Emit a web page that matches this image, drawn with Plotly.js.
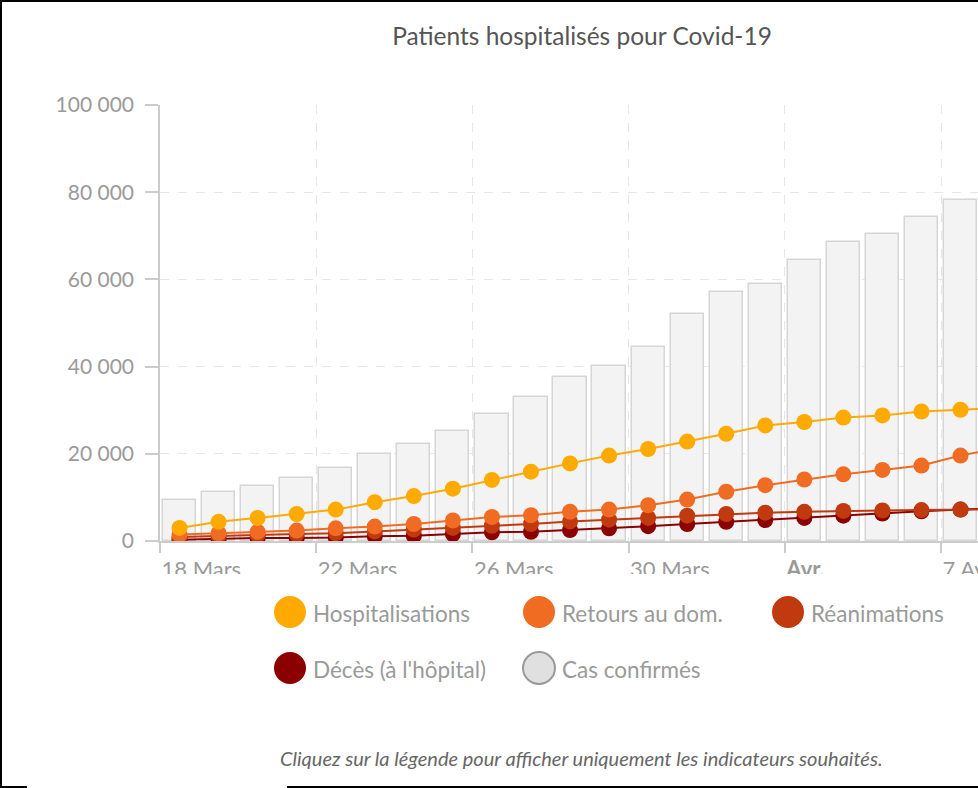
<!DOCTYPE html>
<html>
<head>
<meta charset="utf-8">
<script src="https://cdn.plot.ly/plotly-3.0.1.min.js"></script>
<style>
  html, body { margin: 0; padding: 0; background: #fff; overflow: hidden; width: 978px; height: 788px; }
  #chart { position: absolute; left: 0; top: 0; width: 1020px; height: 788px; }
  .frame { position: absolute; background: #000; }
  #clip { position: absolute; left: 140px; top: 574px; width: 838px; height: 16px; background: #fff; }
</style>
</head>
<body>
<div id="chart"></div>
<div id="clip"></div>
<div class="frame" style="left:0;top:0;width:978px;height:2px;"></div>
<div class="frame" style="left:0;top:0;width:2px;height:788px;"></div>
<div class="frame" style="left:0;top:786px;width:27px;height:2px;"></div>
<div class="frame" style="left:287px;top:786px;width:691px;height:2px;"></div>
<script>
// ---- data ----
const dates = ['2020-03-18','2020-03-19','2020-03-20','2020-03-21','2020-03-22','2020-03-23','2020-03-24',
  '2020-03-25','2020-03-26','2020-03-27','2020-03-28','2020-03-29','2020-03-30','2020-03-31',
  '2020-04-01','2020-04-02','2020-04-03','2020-04-04','2020-04-05','2020-04-06','2020-04-07','2020-04-08'];
const casConfirmes = [9300, 11200, 12600, 14400, 16700, 19900, 22300, 25300, 29100, 33100, 37700,
  40100, 44600, 52100, 57000, 59000, 64400, 68600, 70400, 74200, 78200, 82000];
const hospitalisations = [3000, 4400, 5300, 6200, 7200, 8900, 10300, 12000, 14000, 15900, 17800,
  19600, 21100, 22800, 24600, 26500, 27300, 28300, 28800, 29700, 30100, 30500];
const retoursDom = [1500, 1800, 2100, 2400, 2900, 3300, 3900, 4700, 5500, 5900, 6700,
  7200, 8200, 9500, 11300, 12800, 14100, 15300, 16300, 17300, 19600, 21300];
const reanimations = [900, 1200, 1400, 1600, 1800, 2200, 2600, 3000, 3500, 3900, 4500,
  4900, 5300, 5800, 6200, 6500, 6700, 6900, 7000, 7100, 7200, 7300];
const deces = [300, 500, 700, 700, 800, 1100, 1200, 1600, 2000, 2100, 2500,
  2900, 3400, 3900, 4400, 4800, 5300, 5800, 6300, 6800, 7200, 7500];
const tickDates = ['2020-03-18','2020-03-22','2020-03-26','2020-03-30','2020-04-03','2020-04-07'];
const tickLabels = ['18 Mars','22 Mars','26 Mars','30 Mars','<b>Avr.</b>','7 Avr.'];
const seriesNames = ['Hospitalisations','Retours au dom.','Réanimations',"Décès (à l'hôpital)",'Cas confirmés'];
const seriesColors = ['#ffaa00','#ef6c22','#c0390f','#8b0000','#e0e0e0'];

const FONT = 'Lato, "Open Sans", sans-serif';
const DAY = 86400000;

const lineSeries = [hospitalisations, retoursDom, reanimations, deces];
const traces = [{
  type: 'bar', x: dates, y: casConfirmes, name: seriesNames[4],
  xperiod: DAY, xperiodalignment: 'middle', width: 0.85 * DAY,
  marker: { color: '#f3f3f3', line: { color: '#d6d6d6', width: 1.5 } },
  hoverinfo: 'x+y'
}];
for (let i = lineSeries.length - 1; i >= 0; i--) {
  traces.push({
    type: 'scatter', mode: 'lines+markers', x: dates, y: lineSeries[i], name: seriesNames[i],
    xperiod: DAY, xperiodalignment: 'middle',
    line: { color: seriesColors[i], width: 2 },
    marker: { color: seriesColors[i], size: 16 }
  });
}

// custom legend (large round symbols), laid out in rows
const plotL = 160, plotR = 1004, plotT = 105, plotB = 541;
const pw = plotR - plotL, ph = plotB - plotT;
const px = v => (v - plotL) / pw;
const py = v => (plotB - v) / ph;
const shapes = [], annotations = [];
const order = [0, 1, 2, 3, 4];
order.forEach((k, idx) => {
  const col = idx % 3, row = Math.floor(idx / 3);
  const cx = 290 + col * 249, cy = 612 + row * 56;
  shapes.push({
    type: 'circle', xref: 'paper', yref: 'paper', xsizemode: 'pixel', ysizemode: 'pixel',
    xanchor: px(cx), yanchor: py(cy), x0: -16, x1: 16, y0: -16, y1: 16,
    fillcolor: seriesColors[k],
    line: { color: k === 4 ? '#9a9a9a' : seriesColors[k], width: k === 4 ? 2 : 0 }
  });
  annotations.push({
    xref: 'paper', yref: 'paper', x: px(cx + 21), y: py(cy + 1), xanchor: 'left', yanchor: 'middle',
    text: seriesNames[k], showarrow: false, font: { family: FONT, size: 22.5, color: '#9a9a9a' }
  });
});
annotations.push({
  xref: 'paper', yref: 'paper', x: px(581), y: py(758), xanchor: 'center', yanchor: 'middle',
  text: '<i>Cliquez sur la légende pour afficher uniquement les indicateurs souhaités.</i>',
  showarrow: false, font: { family: FONT, size: 20, color: '#666' }
});

const layout = {
  width: 1020, height: 788,
  margin: { l: plotL, r: 1020 - plotR, t: plotT, b: 788 - plotB, pad: 0 },
  paper_bgcolor: '#fff', plot_bgcolor: '#fff',
  separators: ', ',
  showlegend: false,
  bargap: 0,
  font: { family: FONT, color: '#9a9a9a', size: 19 },
  title: {
    text: 'Patients hospitalisés pour Covid-19',
    x: 0.5, xref: 'paper', xanchor: 'center', y: 1 - 36 / 788, yref: 'container', yanchor: 'middle',
    font: { family: FONT, size: 24.5, color: '#555' }
  },
  xaxis: {
    type: 'date',
    range: ['2020-03-18', new Date(Date.UTC(2020, 2, 18) + (pw / 39.05) * DAY).toISOString().slice(0, 19).replace('T', ' ')],
    tickmode: 'array', tickvals: tickDates, ticktext: tickLabels,
    ticklabelposition: 'outside right', ticklabelstandoff: 8,
    ticks: 'outside', ticklen: 10, tickwidth: 1.5, tickcolor: '#cccccc',
    showline: true, linecolor: '#cccccc', linewidth: 1.5,
    showgrid: true, gridcolor: '#e6e6e6', griddash: 'dash', gridwidth: 1.2,
    zeroline: false, fixedrange: true,
    tickfont: { family: FONT, size: 22, color: '#9a9a9a' }
  },
  yaxis: {
    range: [0, 100000], tickvals: [0, 20000, 40000, 60000, 80000, 100000],
    tickformat: ',d',
    ticks: 'outside', ticklen: 13, tickwidth: 1.5, tickcolor: '#cccccc',
    ticklabelstandoff: 7,
    showline: true, linecolor: '#cccccc', linewidth: 1.5,
    showgrid: true, gridcolor: '#e6e6e6', griddash: 'dash', gridwidth: 1.2,
    zeroline: false, fixedrange: true,
    tickfont: { family: FONT, size: 21, color: '#9a9a9a' }
  },
  shapes: shapes,
  annotations: annotations
};

Plotly.newPlot('chart', traces, layout, { displayModeBar: false, responsive: false });
</script>
</body>
</html>
